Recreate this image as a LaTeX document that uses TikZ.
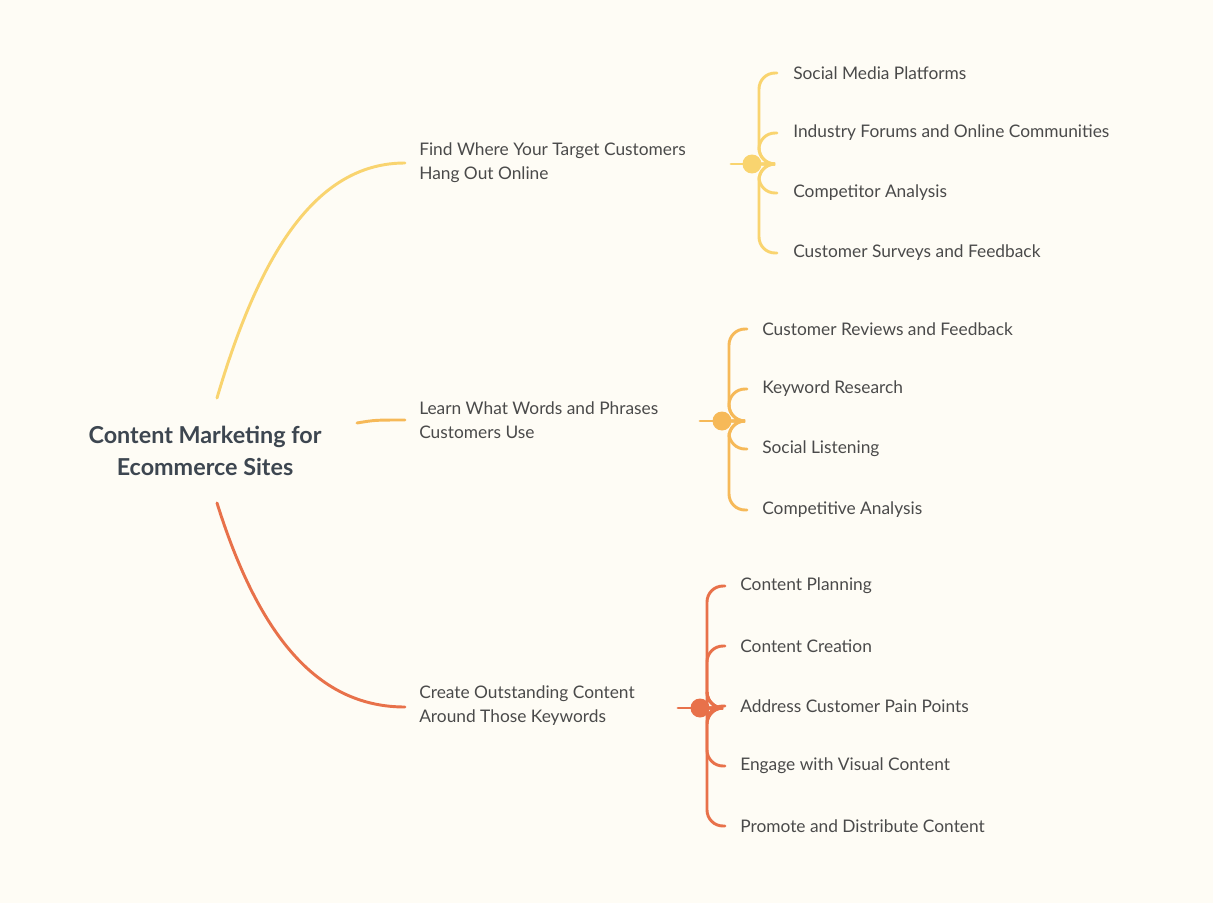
\documentclass[tikz,border=0pt]{standalone}
\usepackage{fontspec}
\setmainfont{Lato}
\definecolor{bg}{HTML}{FEFCF5}
\definecolor{cA}{HTML}{F9D46F}
\definecolor{cB}{HTML}{F6B958}
\definecolor{cC}{HTML}{E8714A}
\definecolor{txt}{HTML}{4A4A4A}
\definecolor{ttl}{HTML}{3D4650}
\begin{document}
\begin{tikzpicture}[x=0.75pt,y=-0.75pt,
 lbl/.style={anchor=west,inner sep=0pt,text=txt,font=\fontsize{13}{18}\selectfont,align=left},
 hub/.style={circle,draw,line width=2.2pt,fill=bg,minimum size=12pt,inner sep=0pt},
 br/.style={line width=2.2pt,line cap=round}]
\fill[bg] (0,0) rectangle (1213,903);
\useasboundingbox (0,0) rectangle (1213,903);
\node[text=ttl,font=\fontsize{17.5}{24}\selectfont\bfseries,align=center] (root) at (205,451) {Content Marketing for\\Ecommerce Sites};
\coordinate (r1) at (217,398); \coordinate (r2) at (357,423); \coordinate (r3) at (217,503);
% branch 1
\node[lbl] (t1) at (419,163) {Find Where Your Target Customers\\Hang Out Online};
\draw[br,cA] (r1) .. controls (262,245) and (320,163) .. (405,163);
\node[hub,cA] (h1) at (752,164) {};
\draw[br,cA] (731,164) -- (h1);
\foreach \y/\t [count=\i] in {73/Social Media Platforms,133/Industry Forums and Online Communities,193/Competitor Analysis,253/Customer Surveys and Feedback}{
 \node[lbl] (a\i) at (793,\y) {\t};
 \draw[br,cA,rounded corners=12pt] (h1.east) -- (759,164) |- (777,\y);
}
% branch 2
\node[lbl] (t2) at (419,420) {Learn What Words and Phrases\\Customers Use};
\draw[br,cB] (r2) .. controls (375,420) .. (405,420);
\node[hub,cB] (h2) at (722,421) {};
\draw[br,cB] (700,421) -- (h2);
\foreach \y/\t [count=\i] in {329/Customer Reviews and Feedback,389/Keyword Research,449/Social Listening,510/Competitive Analysis}{
 \node[lbl] (b\i) at (762,\y) {\t};
 \draw[br,cB,rounded corners=12pt] (h2.east) -- (729,421) |- (747,\y);
}
% branch 3
\node[lbl] (t3) at (419,706) {Create Outstanding Content\\Around Those Keywords};
\draw[br,cC] (r3) .. controls (260,640) and (320,707) .. (405,707);
\node[hub,cC] (h3) at (700,708) {};
\draw[br,cC] (678,708) -- (h3);
\foreach \y/\t [count=\i] in {586/Content Planning,646/Content Creation,706/Address Customer Pain Points,766/Engage with Visual Content,826/Promote and Distribute Content}{
 \node[lbl] (c\i) at (740,\y) {\t};
 \draw[br,cC,rounded corners=12pt] (h3.east) -- (707,708) |- (725,\y);
}
\end{tikzpicture}
\end{document}
